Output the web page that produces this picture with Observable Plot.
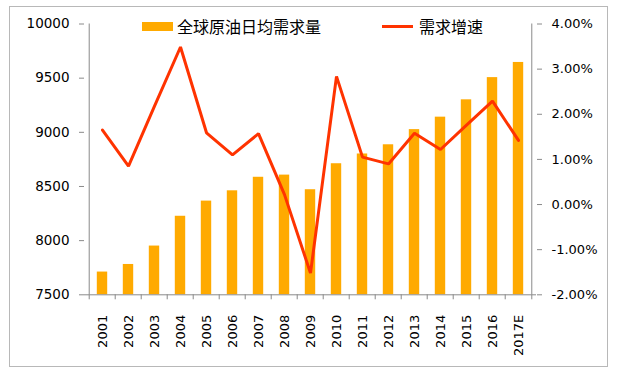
<!DOCTYPE html>
<html>
<head>
<meta charset="utf-8">
<script src="https://cdn.jsdelivr.net/npm/d3@7"></script>
<script src="https://cdn.jsdelivr.net/npm/@observablehq/plot@0.6"></script>
<style>
  html, body { margin: 0; padding: 0; background: #fff; }
  #wrap { position: relative; width: 620px; height: 370px; overflow: hidden; }
  #border { position: absolute; left: 9px; top: 6px; width: 597px; height: 359px; border: 1px solid #b8b8b8; pointer-events: none; }
  #chart { position: absolute; left: 0; top: 0; }
  .leg { position: absolute; font-family: "Noto Sans CJK SC", sans-serif; font-size: 16px; color: #000; line-height: 18px; white-space: nowrap; }
  .sw { position: absolute; }
</style>
</head>
<body>
<div id="wrap">
  <div id="chart"></div>
  <div id="border"></div>
  <div class="sw" id="sw1" style="left:142px; top:22px; width:31px; height:9px;"></div>
  <div class="leg" id="lg1" style="left:177px; top:17px;"></div>
  <div class="sw" id="sw2" style="left:382px; top:25px; width:31px; height:3px;"></div>
  <div class="leg" id="lg2" style="left:419px; top:17px;"></div>
</div>
<script>
// ---- data ----
const years = ["2001","2002","2003","2004","2005","2006","2007","2008","2009","2010","2011","2012","2013","2014","2015","2016","2017E"];
const demand = [7710, 7780, 7950, 8225, 8365, 8460, 8585, 8605, 8470, 8710, 8800, 8885, 9025, 9140, 9300, 9505, 9645];
const growth = [1.65, 0.85, 2.18, 3.49, 1.59, 1.10, 1.57, 0.22, -1.52, 2.84, 1.05, 0.90, 1.58, 1.22, 1.76, 2.29, 1.42];
const leftTicks = [7500, 8000, 8500, 9000, 9500, 10000];
const rightTicks = [-2, -1, 0, 1, 2, 3, 4];
const seriesNames = ["全球原油日均需求量", "需求增速"];
const colors = ["#FFAA00", "#FF3300"];

// ---- layout ----
const W = 620, H = 370;
const mL = 84, mR = 84, mT = 23.5, mB = 75.7;
const bw = (W - mL - mR) / years.length;

// secondary (percent) axis mapped onto the primary domain
const yMin = 7500, yMax = 10000, pMin = -2, pMax = 4;
const p2y = p => yMin + (p - pMin) * (yMax - yMin) / (pMax - pMin);
const y2p = v => pMin + (v - yMin) * (pMax - pMin) / (yMax - yMin);

const barData = years.map((y, i) => ({year: y, v: demand[i]}));
const lineData = years.map((y, i) => ({year: y, v: p2y(growth[i])}));

const axisGray = "#8a8a8a";
const font = "DejaVu Sans, sans-serif";

const chart = Plot.plot({
  width: W, height: H,
  marginLeft: mL, marginRight: mR, marginTop: mT, marginBottom: mB,
  style: {fontFamily: font, fontSize: "13px", color: "#000", background: "transparent"},
  x: {type: "band", domain: years, padding: 0, axis: null},
  y: {domain: [yMin, yMax], axis: null},
  marks: [
    Plot.barY(barData, {x: "year", y1: yMin, y2: "v", fill: colors[0], insetLeft: 7.8, insetRight: 7.8}),
    // left axis
    Plot.axisY({anchor: "left", ticks: leftTicks, tickFormat: d => String(d), tickSize: 5, tickPadding: 10, stroke: axisGray, fill: "#000", label: null, fontSize: 13.5}),
    Plot.ruleX([0], {x: () => years[0], dx: -bw / 2, y1: yMin, y2: yMax, stroke: axisGray}),
    // right axis
    Plot.axisY({anchor: "right", ticks: rightTicks.map(p2y), tickFormat: v => y2p(v).toFixed(2) + "%", tickSize: 5, tickPadding: 10, stroke: axisGray, fill: "#000", label: null, fontSize: 13}),
    Plot.ruleX([0], {x: () => years[years.length - 1], dx: bw / 2, y1: yMin, y2: yMax, stroke: axisGray}),
    // bottom axis line
    Plot.ruleY([yMin], {stroke: axisGray}),
    // category boundary ticks
    Plot.axisX({anchor: "bottom", tickSize: 5, dx: -bw / 2, tickFormat: () => "", stroke: axisGray, label: null}),
    Plot.axisX({anchor: "bottom", ticks: [years[years.length - 1]], tickSize: 5, dx: bw / 2, tickFormat: () => "", stroke: axisGray, label: null}),
    // category labels
    Plot.axisX({anchor: "bottom", tickSize: 0, tickPadding: 20, tickRotate: -90, fill: "#000", label: null, fontSize: 13}),
    // growth line
    Plot.line(lineData, {x: "year", y: "v", stroke: colors[1], strokeWidth: 3, strokeLinejoin: "miter"})
  ]
});
document.getElementById("chart").appendChild(chart);

document.getElementById("sw1").style.background = colors[0];
document.getElementById("sw2").style.background = colors[1];
document.getElementById("lg1").textContent = seriesNames[0];
document.getElementById("lg2").textContent = seriesNames[1];
</script>
</body>
</html>
